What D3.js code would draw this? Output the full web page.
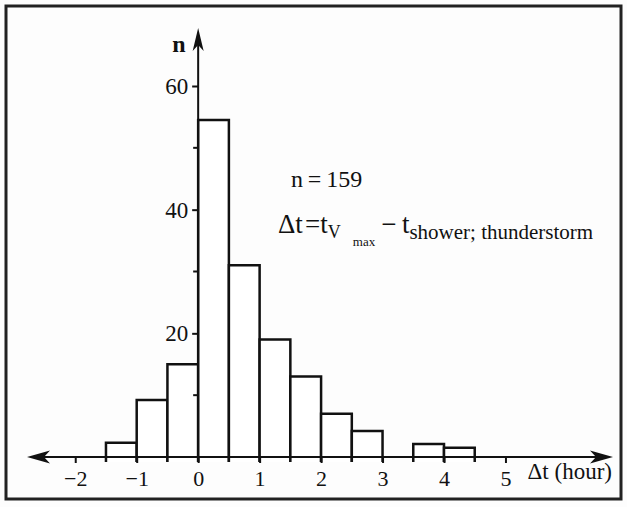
<!DOCTYPE html>
<html>
<head>
<meta charset="utf-8">
<script src="https://cdn.jsdelivr.net/npm/d3@7"></script>
<style>
  body { margin: 0; background: #ffffff; }
  svg text { font-family: "Liberation Serif", "DejaVu Serif", "Times New Roman", serif !important; fill: #111; }
</style>
</head>
<body>
<div id="vis"></div>
<script>
// histogram bins (lower edge, hours) and counts
var binStart = [-1.5, -1, -0.5, 0, 0.5, 1, 1.5, 2, 2.5, 3, 3.5, 4];
var counts   = [2.3, 9.2, 15, 54.5, 31, 19, 13, 7, 4.2, 0, 2.1, 1.5];
var binWidth = 0.5;
var xTicks = [-2, -1, 0, 1, 2, 3, 4, 5];
var yTicks = [20, 40, 60];
var yMinor = [10, 30, 50];

var data = binStart.map((b, i) => ({x0: b, x1: b + binWidth, n: counts[i]}));

var w = 627;
var h = 507;

var chart = d3.select("#vis")
              .append("svg")
              .attr("width", w)
              .attr("height", h)
              .style("background-color", "#fdfdfd")

// frame round the figure
chart.append("rect")
     .attr("x", 6).attr("y", 6)
     .attr("width", 615).attr("height", 493)
     .attr("fill", "none")
     .attr("stroke", "#222")
     .attr("stroke-width", 3)

const xScale = d3.scaleLinear()
            .domain([-1, 4])
            .range([136.7, 444])

const yScale = d3.scaleLinear()
            .domain([0, 60])
            .range([457, 86])

const x0 = xScale(0);
const y0 = yScale(0);

// bars
chart.selectAll(".bar")
     .data(data.filter(d => d.n > 0))
     .enter()
     .append("path")
     .attr("class", "bar")
     .attr("d", d => `M${xScale(d.x0)},${y0 + 5}V${yScale(d.n)}H${xScale(d.x1)}V${y0 + 5}`)
     .attr("fill", "#fff")
     .attr("stroke", "#111")
     .attr("stroke-width", 2.5)

// x axis with ticks below
const xAxis = chart.append("g")
                   .attr("transform", `translate(0,${y0})`)
                   .call(d3.axisBottom(xScale)
                           .tickValues(xTicks)
                           .tickSize(6)
                           .tickPadding(7)
                           .tickFormat(d => d < 0 ? "\u2212" + Math.abs(d) : d))
xAxis.select(".domain").remove()
xAxis.selectAll("line").attr("stroke", "#111").attr("stroke-width", 2)
xAxis.selectAll("text")
     .attr("font-size", 22)
     .attr("fill", "#111")

chart.append("line")
     .attr("x1", 40).attr("x2", 600)
     .attr("y1", y0).attr("y2", y0)
     .attr("stroke", "#111").attr("stroke-width", 2.2)

// arrowheads on the x axis
chart.append("path")
     .attr("d", `M27,${y0} L50,${y0 - 6.5} L44,${y0} L50,${y0 + 6.5} Z`)
     .attr("fill", "#111")
chart.append("path")
     .attr("d", `M613,${y0} L590,${y0 - 6.5} L596,${y0} L590,${y0 + 6.5} Z`)
     .attr("fill", "#111")

// y axis
const yAxis = chart.append("g")
                   .attr("transform", `translate(${x0},0)`)
                   .call(d3.axisLeft(yScale)
                           .tickValues(yTicks)
                           .tickSize(6)
                           .tickPadding(4))
yAxis.select(".domain").remove()
yAxis.selectAll("line").attr("stroke", "#111").attr("stroke-width", 2)
yAxis.selectAll("text")
     .attr("font-size", 23)
     .attr("fill", "#111")

chart.selectAll(".minor")
     .data(yMinor)
     .enter()
     .append("line")
     .attr("x1", x0 - 5).attr("x2", x0)
     .attr("y1", d => yScale(d)).attr("y2", d => yScale(d))
     .attr("stroke", "#111").attr("stroke-width", 2)

chart.append("line")
     .attr("x1", x0).attr("x2", x0)
     .attr("y1", y0).attr("y2", 40)
     .attr("stroke", "#111").attr("stroke-width", 2)
chart.append("path")
     .attr("d", `M${x0},28 L${x0 - 5.5},51 L${x0},45 L${x0 + 5.5},51 Z`)
     .attr("fill", "#111")

// axis titles
chart.append("text")
     .attr("x", 179).attr("y", 52)
     .attr("text-anchor", "middle")
     .attr("font-size", 24)
     .attr("font-weight", "bold")
     .text("n")

chart.append("text")
     .attr("x", 612).attr("y", 479)
     .attr("text-anchor", "end")
     .attr("font-size", 23)
     .text("\u0394t (hour)")

// annotation
chart.append("text")
     .attr("x", 291).attr("y", 187)
     .attr("font-size", 24)
     .text("n\u2009=\u2009159")

const note = chart.append("text")
     .attr("x", 278).attr("y", 233)
     .attr("font-size", 27)
note.append("tspan").text("\u0394t\u200a=t")
note.append("tspan").attr("font-size", 18).attr("dy", 5).text("V")
note.append("tspan").attr("font-size", 13).attr("dy", 8).attr("dx", 12).text("max")
note.append("tspan").attr("dy", -13).attr("dx", 6).text("\u2212\u2009t")
note.append("tspan").attr("font-size", 21).attr("dy", 6).text("shower; thunderstorm")
</script>
</body>
</html>
